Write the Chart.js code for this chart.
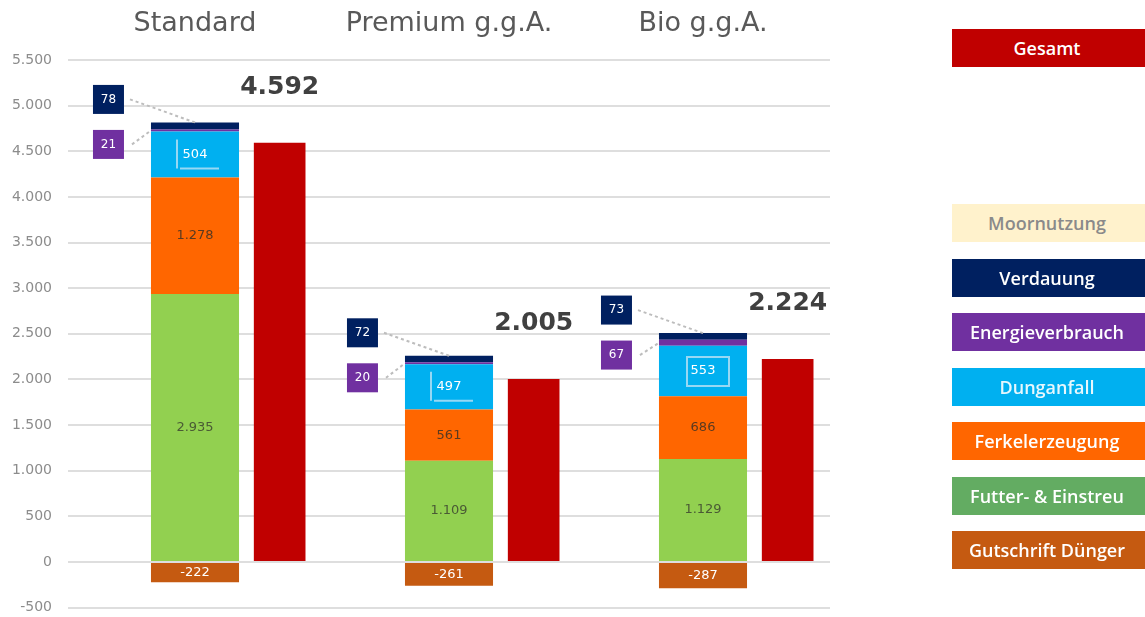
<!DOCTYPE html>
<html>
<head>
<meta charset="utf-8">
<script src="https://cdn.jsdelivr.net/npm/chart.js@4.4.1/dist/chart.umd.min.js"></script>
<style>
  html, body { margin: 0; padding: 0; background: #ffffff; }
  #wrap { position: relative; width: 1145px; height: 617px; overflow: hidden; }
  #c { position: absolute; left: 0; top: 0; }
  .leg {
    position: absolute; left: 952px; width: 200px; height: 38px;
    display: flex; align-items: center; justify-content: center;
    font: 600 18px "Open Sans", sans-serif; color: #ffffff;
    padding-right: 10px; box-sizing: border-box; white-space: nowrap;
  }
</style>
</head>
<body>
<div id="wrap">
  <canvas id="c" width="1145" height="632"></canvas>
  <div id="legend"></div>
</div>
<script>
// Treibhausgas-Bilanz je Haltungsform, Beiträge der einzelnen Quellen
const categories = ['Standard', 'Premium g.g.A.', 'Bio g.g.A.'];
const gutschriftDuenger = [-222, -261, -287];
const futterEinstreu    = [2935, 1109, 1129];
const ferkelerzeugung   = [1278, 561, 686];
const dunganfall        = [504, 497, 553];
const energieverbrauch  = [21, 20, 67];
const verdauung         = [78, 72, 73];
const moornutzung       = [0, 0, 0];
const gesamt            = [4592, 2005, 2224];
const yMin = -500, yMax = 5500, yStep = 500;

const COL = {
  gesamt: '#C00000', moor: '#FFF2CC', verd: '#002060', energie: '#7030A0',
  dung: '#00B0F0', ferkel: '#FF6600', futter: '#92D050', futterLeg: '#63AC62', gut: '#C55A11'
};

function fmt(v) {
  const s = Math.abs(Math.round(v)).toString().replace(/\B(?=(\d{3})+(?!\d))/g, '.');
  return (v < 0 ? '-' : '') + s;
}

const partOpts = { stack: 'parts', barPercentage: 1.04, categoryPercentage: 1, borderWidth: 0 };
const datasets = [
  { label: '_spacer', data: [0, 0, 0], stack: 'spacer', backgroundColor: 'rgba(0,0,0,0)', categoryPercentage: 1 },
  { label: 'Gutschrift Dünger', data: gutschriftDuenger, backgroundColor: COL.gut, ...partOpts },
  { label: 'Futter- & Einstreu', data: futterEinstreu, backgroundColor: COL.futter, ...partOpts },
  { label: 'Ferkelerzeugung', data: ferkelerzeugung, backgroundColor: COL.ferkel, ...partOpts },
  { label: 'Dunganfall', data: dunganfall, backgroundColor: COL.dung, ...partOpts },
  { label: 'Energieverbrauch', data: energieverbrauch, backgroundColor: COL.energie, ...partOpts },
  { label: 'Verdauung', data: verdauung, backgroundColor: COL.verd, ...partOpts },
  { label: 'Moornutzung', data: moornutzung, backgroundColor: COL.moor, ...partOpts },
  { label: 'Gesamt', data: gesamt, stack: 'total', backgroundColor: COL.gesamt, barPercentage: 0.61, categoryPercentage: 1, borderWidth: 0 }
];

// Legend entries (drawn as coloured boxes with the name inside)
const legendNames  = ['Gesamt', 'Moornutzung', 'Verdauung', 'Energieverbrauch', 'Dunganfall', 'Ferkelerzeugung', 'Futter- & Einstreu', 'Gutschrift Dünger'];
const legendColors = [COL.gesamt, COL.moor, COL.verd, COL.energie, COL.dung, COL.ferkel, COL.futterLeg, COL.gut];
const legendText   = ['#ffffff', '#8a8a8a', '#ffffff', '#ffffff', '#e6f7fd', '#ffffff', '#ffffff', '#ffffff'];

(function buildLegend() {
  const host = document.getElementById('legend');
  legendNames.forEach((name, i) => {
    const d = document.createElement('div');
    d.className = 'leg';
    d.textContent = name;
    d.style.background = legendColors[i];
    d.style.color = legendText[i];
    d.style.top = (i === 0 ? 29 : 204 + (i - 1) * 54.5) + 'px';
    host.appendChild(d);
  });
})();

const valueLabels = {
  id: 'valueLabels',
  afterDatasetsDraw(chart) {
    const ctx = chart.ctx;
    const meta = label => chart.getDatasetMeta(chart.data.datasets.findIndex(d => d.label === label));
    const mGut = meta('Gutschrift Dünger'), mFut = meta('Futter- & Einstreu'), mFer = meta('Ferkelerzeugung');
    const mDung = meta('Dunganfall'), mEn = meta('Energieverbrauch'), mVer = meta('Verdauung'), mGes = meta('Gesamt');

    ctx.save();
    ctx.textAlign = 'center';
    ctx.textBaseline = 'middle';
    const small = '13px "DejaVu Sans", sans-serif';
    ctx.font = small;

    const inner = (m, i, color, value) => {
      const el = m.data[i];
      ctx.fillStyle = color;
      ctx.fillText(fmt(value), el.x, (el.y + el.base) / 2);
    };

    categories.forEach((cat, i) => {
      inner(mGut, i, '#ffffff', gutschriftDuenger[i]);
      inner(mFut, i, '#4a5a35', futterEinstreu[i]);
      inner(mFer, i, '#5a3a20', ferkelerzeugung[i]);
      inner(mDung, i, '#ffffff', dunganfall[i]);

      // frame around the Dunganfall label
      const d = mDung.data[i];
      const cy = (d.y + d.base) / 2;
      ctx.strokeStyle = 'rgba(200,230,245,0.75)';
      ctx.lineWidth = 2;
      ctx.beginPath();
      if (i === 2) {
        ctx.rect(d.x - 16, cy - 14, 42, 29);
      } else {
        ctx.moveTo(d.x - 18, cy - 15);
        ctx.lineTo(d.x - 18, cy + 14);
        ctx.moveTo(d.x - 15, cy + 14);
        ctx.lineTo(d.x + 24, cy + 14);
      }
      ctx.stroke();

      // callouts for the thin top segments
      const top = mVer.data[i];
      const en = mEn.data[i];
      const barLeft = top.x - top.width / 2;
      const boxW = 31, boxH = 29;
      const boxRight = barLeft - 27;
      const navyCy = top.y - 23;
      const purpleCy = top.y + 22;

      ctx.setLineDash([3, 3]);
      ctx.strokeStyle = '#bdbdbd';
      ctx.lineWidth = 2;
      ctx.beginPath();
      ctx.moveTo(boxRight + 6, navyCy);
      ctx.lineTo(top.x, top.y);
      ctx.moveTo(boxRight + 8, purpleCy);
      ctx.lineTo(barLeft, (en.y + en.base) / 2);
      ctx.stroke();
      ctx.setLineDash([]);

      ctx.fillStyle = COL.verd;
      ctx.fillRect(boxRight - boxW, navyCy - boxH / 2, boxW, boxH);
      ctx.fillStyle = COL.energie;
      ctx.fillRect(boxRight - boxW, purpleCy - boxH / 2, boxW, boxH);
      ctx.fillStyle = '#ffffff';
      ctx.font = '12px "DejaVu Sans", sans-serif';
      ctx.fillText(fmt(verdauung[i]), boxRight - boxW / 2, navyCy);
      ctx.fillText(fmt(energieverbrauch[i]), boxRight - boxW / 2, purpleCy);
      ctx.font = small;

      // total above the Gesamt bar
      const g = mGes.data[i];
      ctx.fillStyle = '#404040';
      ctx.font = 'bold 25px "DejaVu Sans", sans-serif';
      ctx.fillText(fmt(gesamt[i]), g.x, g.y - 55);
      ctx.font = small;
    });
    ctx.restore();
  }
};

new Chart(document.getElementById('c'), {
  type: 'bar',
  data: { labels: categories, datasets },
  options: {
    responsive: false,
    animation: false,
    layout: { padding: { left: 10, right: 315, top: 8, bottom: 0 } },
    plugins: { legend: { display: false }, tooltip: { enabled: false } },
    scales: {
      x: {
        position: 'top',
        stacked: true,
        grid: { display: false, drawTicks: false },
        border: { display: false },
        ticks: { color: '#595959', font: { family: 'DejaVu Sans', size: 27 }, padding: 20 },
        afterFit: s => { s.height = 52; }
      },
      y: {
        stacked: true,
        min: yMin, max: yMax,
        grid: { color: '#dedede', lineWidth: 2, drawTicks: false },
        border: { display: false },
        ticks: {
          stepSize: yStep, color: '#8c8c8c', padding: 16,
          font: { family: 'DejaVu Sans', size: 14 },
          callback: v => fmt(v)
        },
        afterFit: s => { s.width = 58; }
      }
    }
  },
  plugins: [valueLabels]
});
</script>
</body>
</html>
